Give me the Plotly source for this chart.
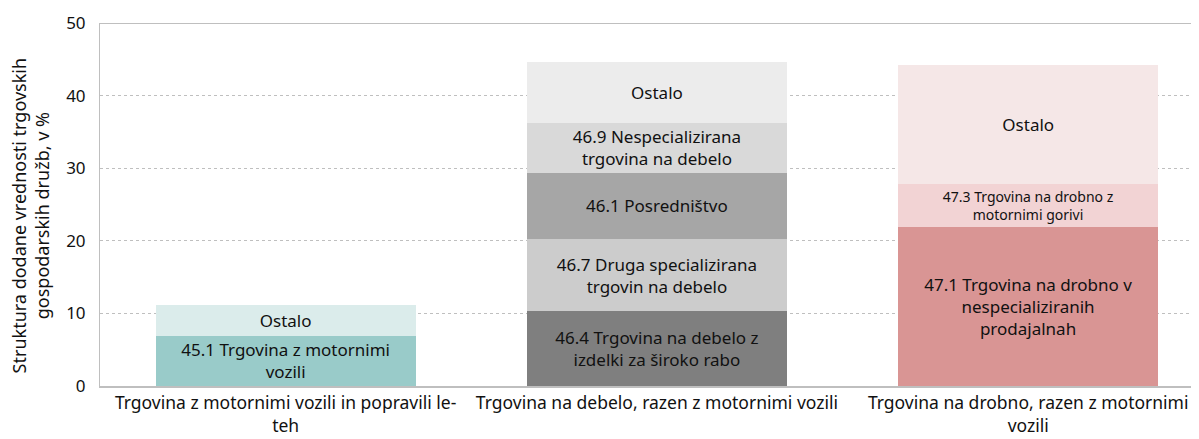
import plotly.graph_objects as go

categories = [
    "Trgovina z motornimi vozili in popravili le-<br>teh",
    "Trgovina na debelo, razen z motornimi vozili",
    "Trgovina na drobno, razen z motornimi<br>vozili",
]

seg_labels = [
    ["45.1 Trgovina z motornimi<br>vozili", "Ostalo"],
    ["46.4 Trgovina na debelo z<br>izdelki za široko rabo",
     "46.7 Druga specializirana<br>trgovin na debelo",
     "46.1 Posredništvo",
     "46.9 Nespecializirana<br>trgovina na debelo",
     "Ostalo"],
    ["47.1 Trgovina na drobno v<br>nespecializiranih<br>prodajalnah",
     "47.3 Trgovina na drobno z<br>motornimi gorivi",
     "Ostalo"],
]

seg_values = [
    [6.9, 4.3],
    [10.3, 9.95, 9.1, 6.9, 8.4],
    [21.9, 5.9, 16.4],
]

seg_colors = [
    ["#99CBC9", "#DBECEB"],
    ["#7F7F7F", "#CCCCCC", "#A6A6A6", "#D9D9D9", "#ECECEC"],
    ["#D99594", "#F2D3D4", "#F5E7E7"],
]

seg_font_sizes = [
    [17, 17],
    [17, 17, 17, 17, 17],
    [17, 14, 17],
]

yticks = [0, 10, 20, 30, 40, 50]
y_title = "Struktura dodane vrednosti trgovskih<br>gospodarskih družb, v %"

FONT = "Noto Sans"
fig = go.Figure()
for ci, cat in enumerate(categories):
    for label, val, col, fs in zip(seg_labels[ci], seg_values[ci], seg_colors[ci], seg_font_sizes[ci]):
        fig.add_trace(go.Bar(
            x=[ci], y=[val], width=0.7,
            marker=dict(color=col, line=dict(width=0)),
            text=[label], textposition="inside", insidetextanchor="middle",
            textangle=0, constraintext="none",
            insidetextfont=dict(family=FONT, size=fs, color="#111111"),
            showlegend=False, hoverinfo="skip",
        ))

fig.update_layout(
    barmode="stack",
    width=1199, height=439,
    margin=dict(l=92, r=8, t=15, b=61, autoexpand=False),
    paper_bgcolor="white", plot_bgcolor="white",
    font=dict(family=FONT, size=16, color="#111111"),
    xaxis=dict(
        range=[-0.5, 2.46],
        tickmode="array", tickvals=list(range(len(categories))), ticktext=categories,
        showgrid=False, showline=True, linecolor="#BFBFBF", linewidth=2,
        ticks="", tickfont=dict(family=FONT, size=17.5),
        zeroline=False, automargin=False,
    ),
    yaxis=dict(
        range=[0, 50], tickvals=yticks,
        showgrid=True, gridcolor="#BFBFBF", griddash="dot", gridwidth=1,
        showline=True, linecolor="#BFBFBF", linewidth=1,
        ticks="", tickfont=dict(family=FONT, size=17), ticklabelstandoff=10,
        zeroline=False, automargin=False,
    ),
    annotations=[dict(
        text=y_title, textangle=-90, showarrow=False,
        xref="paper", yref="paper", x=-0.0637, y=0.47,
        xanchor="center", yanchor="middle",
        font=dict(family=FONT, size=18, color="#111111"),
    )],
    shapes=[dict(type="line", xref="paper", yref="y", x0=0, x1=1, y0=50, y1=50,
                 line=dict(color="#BFBFBF", width=2))],
)

fig.write_html("out.html")
